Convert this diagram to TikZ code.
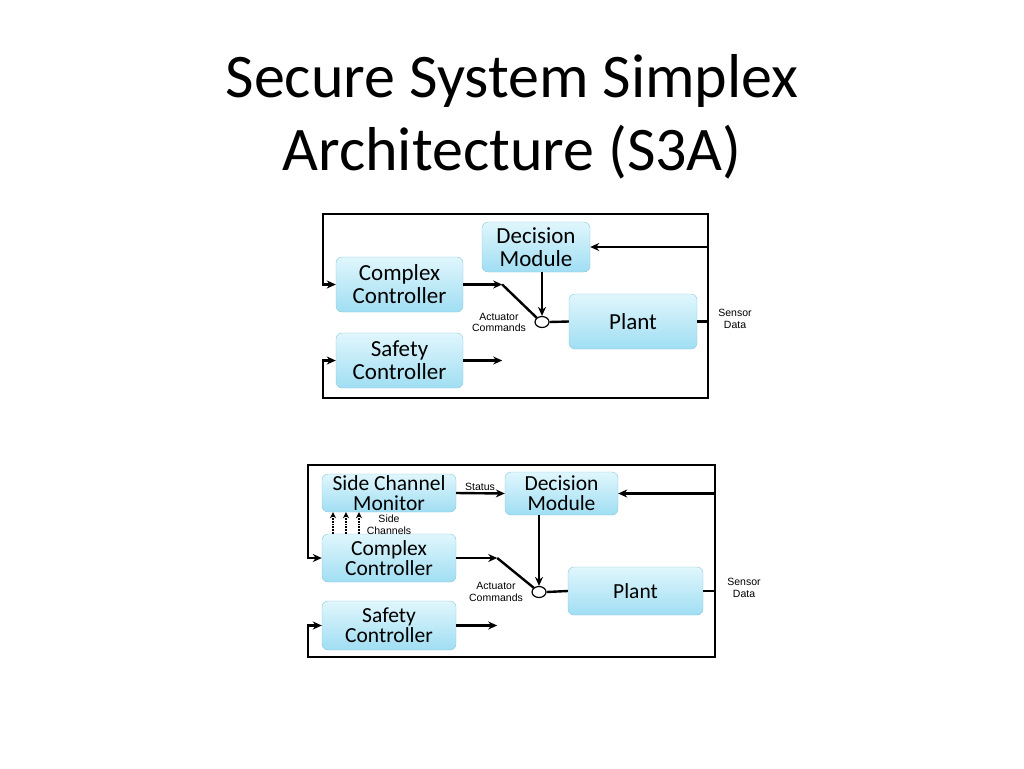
\documentclass[tikz,border=0pt]{standalone}
\usepackage{fontspec}
\setmainfont{Carlito}
\newfontfamily\labelfont{Liberation Sans}
\usetikzlibrary{arrows.meta,shapes.geometric}
\definecolor{boxtop}{RGB}{224,246,252}
\definecolor{boxbot}{RGB}{160,222,243}
\definecolor{boxline}{RGB}{140,198,222}
\tikzset{
  blockbox/.style={draw=boxline, rounded corners=6pt, top color=boxtop, bottom color=boxbot, align=center, inner sep=0pt},
  smalltext/.style={font=\labelfont\fontsize{10.5}{11.5}\selectfont, align=center, inner sep=0pt},
  flow/.style={line width=2.4pt, -{Stealth[length=9pt,width=8pt]}},
  wire/.style={line width=2.4pt},
  switch/.style={draw, ellipse, line width=1.2pt, minimum width=14pt, minimum height=11pt, inner sep=0pt},
  sidech/.style={line width=1.8pt, densely dotted, -{Stealth[length=6pt,width=6pt]}}
}
\begin{document}
\begin{tikzpicture}[x=1pt,y=-1pt]
\useasboundingbox (0,0) rectangle (1024,768);
\node[anchor=base, font=\fontsize{62}{73}\selectfont] (title1) at (512,97) {Secure System Simplex};
\node[anchor=base, font=\fontsize{62}{73}\selectfont] (title2) at (512,170) {Architecture (S3A)};
% upper picture
\begin{scope}[every node/.append style={font=\fontsize{23}{23}\selectfont}]
\node[blockbox, minimum width=108pt, minimum height=50pt] (dm1) at (536,247) {Decision\\Module};
\node[blockbox, minimum width=127pt, minimum height=55pt] (cc1) at (399.5,284.5) {Complex\\Controller};
\node[blockbox, minimum width=127pt, minimum height=55pt] (sc1) at (399.5,360.5) {Safety\\Controller};
\node[blockbox, minimum width=128pt, minimum height=55pt] (plant1) at (633,321.5) {Plant};
\end{scope}
\node[switch] (sw1) at (542,322) {};
\node[smalltext] (act1) at (499,322.5) {Actuator\\Commands};
\node[smalltext] (sens1) at (735,319) {Sensor\\Data};
\coordinate (tr1) at (708,214);
\coordinate (tl1) at (323,214);
\coordinate (br1) at (708,398);
\coordinate (bl1) at (323,398);
\coordinate (cca1) at ([xshift=39pt]cc1.east);
\coordinate (sca1) at ([xshift=39pt]sc1.east);
\draw[flow] (cc1.east) -- (cca1);
\draw[wire] (cca1) -- (sw1.north west);
\draw[flow] (sc1.east) -- (sca1);
\draw[flow] (sw1.north |- dm1.south) -- (sw1.north);
\draw[wire] (sw1.east) -- (plant1.west);
\draw[flow] (plant1.east) -| (tr1) -- (tl1) |- (cc1.west);
\draw[flow] (plant1.east) -| (br1) -- (bl1) |- (sc1.west);
\draw[flow] (dm1.east -| tr1) -- (dm1.east);
% lower picture
\begin{scope}[every node/.append style={font=\fontsize{21.5}{20}\selectfont}]
\node[blockbox, minimum width=134pt, minimum height=38pt] (scm2) at (389,493) {Side Channel\\Monitor};
\node[blockbox, minimum width=113pt, minimum height=43pt] (dm2) at (561.5,493.5) {Decision\\Module};
\node[blockbox, minimum width=134pt, minimum height=48pt] (cc2) at (389,558) {Complex\\Controller};
\node[blockbox, minimum width=134pt, minimum height=49pt] (sc2) at (389,625.5) {Safety\\Controller};
\node[blockbox, minimum width=135pt, minimum height=48pt] (plant2) at (635.5,591) {Plant};
\end{scope}
\node[switch] (sw2) at (539,592) {};
\node[smalltext] (act2) at (496,592) {Actuator\\Commands};
\node[smalltext] (sens2) at (744,588) {Sensor\\Data};
\node[smalltext, anchor=base] (stat2) at (480,490) {Status};
\node[smalltext] (side2) at (389,524.5) {Side\\Channels};
\coordinate (tr2) at (715,465);
\coordinate (tl2) at (308,465);
\coordinate (br2) at (715,657);
\coordinate (bl2) at (308,657);
\coordinate (cca2) at ([xshift=41pt]cc2.east);
\coordinate (sca2) at ([xshift=41pt]sc2.east);
\foreach \x in {333,346,359}
  \draw[sidech] (\x,0 |- cc2.north) -- (\x,0 |- scm2.south);
\draw[flow] (scm2.east) -- (dm2.west);
\draw[flow] (cc2.east) -- (cca2);
\draw[wire] (cca2) -- (sw2.north west);
\draw[flow] (sc2.east) -- (sca2);
\draw[flow] (sw2.north |- dm2.south) -- (sw2.north);
\draw[wire] (sw2.east) -- (plant2.west);
\draw[flow] (plant2.east) -| (tr2) -- (tl2) |- (cc2.west);
\draw[flow] (plant2.east) -| (br2) -- (bl2) |- (sc2.west);
\draw[flow] (dm2.east -| tr2) -- (dm2.east);
\end{tikzpicture}
\end{document}
